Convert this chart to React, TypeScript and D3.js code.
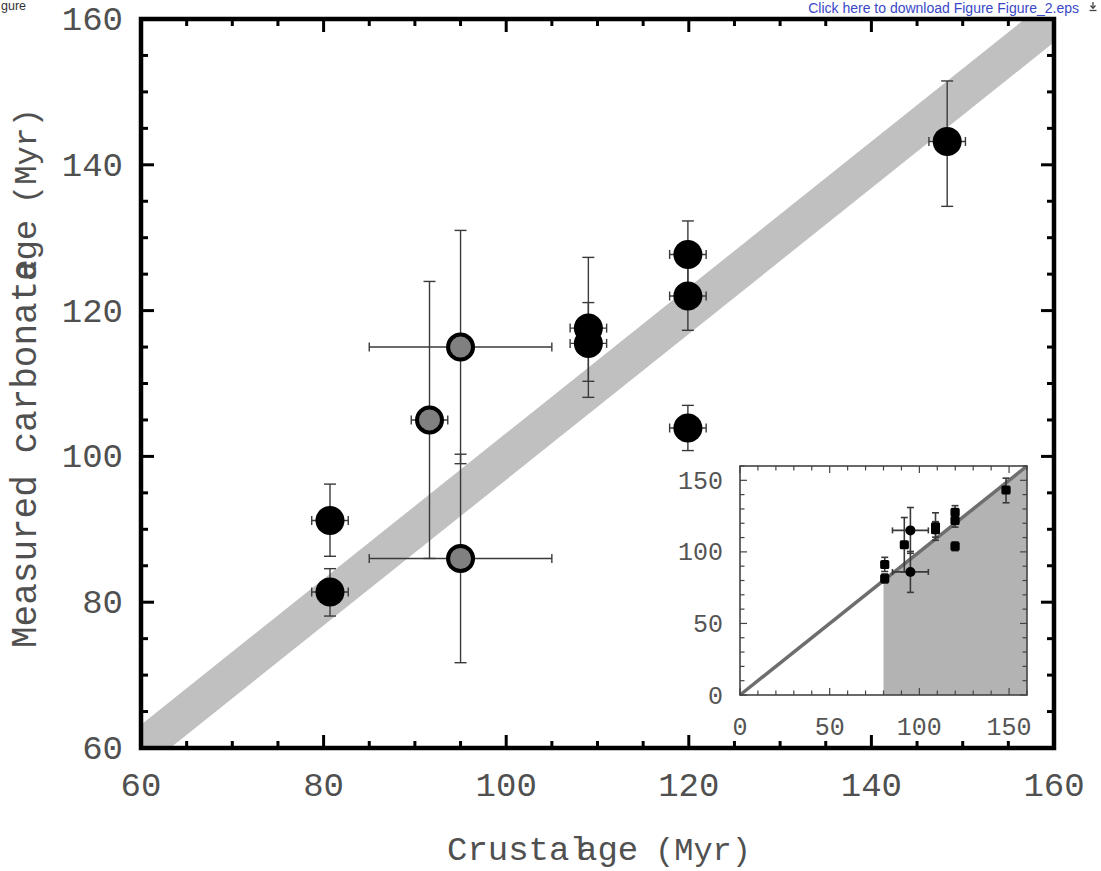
import React from "react";
import * as d3 from "d3";

// ---- Data (main panel) ----
const blackX = [80.7, 80.7, 109.0, 109.0, 119.9, 119.9, 119.9, 148.3];
const blackY = [91.2, 81.4, 117.6, 115.5, 127.7, 122.0, 103.9, 143.2];
const blackYLo = [86.3, 78.1, 108.1, 110.3, 123.1, 117.3, 100.8, 134.3];
const blackYHi = [96.2, 84.6, 127.3, 121.1, 132.3, 126.7, 107.0, 151.5];
const blackXErr = [2, 2, 2, 2, 2, 2, 2, 2];

const grayX = [91.6, 95.0, 95.0];
const grayY = [105.0, 115.0, 86.0];
const grayYLo = [86.0, 99.0, 71.7];
const grayYHi = [124.0, 131.0, 100.3];
const grayXLo = [89.6, 85.0, 85.0];
const grayXHi = [93.6, 105.0, 105.0];

const bandHalfWidth = 3.2; // 1:1 band half-width (Myr)
const mainDomain = [60, 160];
const mainMajorTicks = [60, 80, 100, 120, 140, 160];
const insetDomain = [0, 160];
const insetMajorTicks = [0, 50, 100, 150];
const insetCutoff = 80;

const xTitleA = "Crustal";
const xTitleB = "age";
const xTitleC = "(Myr)";
const yTitleA = "Measured carbonate";
const yTitleB = "age";
const yTitleC = "(Myr)";

const MONO = "'Liberation Mono', 'DejaVu Sans Mono', monospace";
const SANS = "'Liberation Sans', Arial, sans-serif";

export default function App() {
  const x = d3.scaleLinear().domain(mainDomain).range([141, 1054]);
  const y = d3.scaleLinear().domain(mainDomain).range([748, 19]);
  const ix = d3.scaleLinear().domain(insetDomain).range([740, 1027]);
  const iy = d3.scaleLinear().domain(insetDomain).range([695, 466]);

  const minor = d3.range(60, 160.01, 5);
  const inMinor = d3.range(0, 160.01, 10);

  const band = d3
    .area<number>()
    .x((d) => x(d))
    .y0((d) => y(d - bandHalfWidth))
    .y1((d) => y(d + bandHalfWidth));
  const bandPath = band([50, 170]) || "";

  const shade = d3
    .area<number>()
    .x((d) => ix(d))
    .y0(() => iy(0))
    .y1((d) => iy(d));
  const shadePath = shade([insetCutoff, 160]) || "";

  const ebColor = "#3a3a3a";
  const capV = 6;
  const capH = 4.5;

  const allX = [...blackX, ...grayX];
  const allY = [...blackY, ...grayY];
  const allYLo = [...blackYLo, ...grayYLo];
  const allYHi = [...blackYHi, ...grayYHi];
  const allXLo = [...blackX.map((v, i) => v - blackXErr[i]), ...grayXLo];
  const allXHi = [...blackX.map((v, i) => v + blackXErr[i]), ...grayXHi];

  const errorBars = (sx: any, sy: any, cv: number, ch: number, sw: number) =>
    allX.map((vx, i) => (
      <g key={"eb" + i} stroke={ebColor} strokeWidth={sw} fill="none">
        <line x1={sx(vx)} x2={sx(vx)} y1={sy(allYLo[i])} y2={sy(allYHi[i])} />
        <line x1={sx(vx) - cv} x2={sx(vx) + cv} y1={sy(allYLo[i])} y2={sy(allYLo[i])} />
        <line x1={sx(vx) - cv} x2={sx(vx) + cv} y1={sy(allYHi[i])} y2={sy(allYHi[i])} />
        <line x1={sx(allXLo[i])} x2={sx(allXHi[i])} y1={sy(allY[i])} y2={sy(allY[i])} />
        <line x1={sx(allXLo[i])} x2={sx(allXLo[i])} y1={sy(allY[i]) - ch} y2={sy(allY[i]) + ch} />
        <line x1={sx(allXHi[i])} x2={sx(allXHi[i])} y1={sy(allY[i]) - ch} y2={sy(allY[i]) + ch} />
      </g>
    ));

  const [x0, x1] = [x(60), x(160)];
  const [y0, y1] = [y(60), y(160)];

  return (
    <svg
      width={1101}
      height={871}
      style={{ position: "absolute", left: 0, top: 0, background: "#fff" }}
    >
      <rect x={0} y={0} width={1101} height={871} fill="#fff" />
      {/* header texts */}
      <text x={1} y={10} fontFamily={SANS} fontSize={12.5} fill="#333">
        gure
      </text>
      <text x={1079} y={12.5} textAnchor="end" fontFamily={SANS} fontSize={14} fill="#3a48c8">
        Click here to download Figure Figure_2.eps
      </text>
      <g stroke="#444" strokeWidth={1.3} fill="none">
        <line x1={1093} x2={1093} y1={2} y2={8} />
        <path d="M1090.5,5.5 L1093,8.3 L1095.5,5.5" />
        <line x1={1089.5} x2={1096.5} y1={10.5} y2={10.5} />
      </g>

      <defs>
        <clipPath id="plotClip">
          <rect x={x0} y={y1} width={x1 - x0} height={y0 - y1} />
        </clipPath>
      </defs>

      {/* 1:1 band */}
      <path d={bandPath} fill="#c0c0c0" clipPath="url(#plotClip)" />

      {/* error bars */}
      {errorBars(x, y, capV, capH, 1.4)}

      {/* markers */}
      {blackX.map((vx, i) => (
        <circle key={"b" + i} cx={x(vx)} cy={y(blackY[i])} r={14.5} fill="#000" />
      ))}
      {grayX.map((vx, i) => (
        <circle
          key={"g" + i}
          cx={x(vx)}
          cy={y(grayY[i])}
          r={12.5}
          fill="#808080"
          stroke="#000"
          strokeWidth={4}
        />
      ))}

      {/* ticks */}
      <g stroke="#000" strokeWidth={3}>
        {minor.map((t) => {
          const L = t % 20 === 0 ? 13 : 7;
          return (
            <g key={"t" + t}>
              <line x1={x(t)} x2={x(t)} y1={y0} y2={y0 - L} />
              <line x1={x(t)} x2={x(t)} y1={y1} y2={y1 + L} />
              <line x1={x0} x2={x0 + L} y1={y(t)} y2={y(t)} />
              <line x1={x1} x2={x1 - L} y1={y(t)} y2={y(t)} />
            </g>
          );
        })}
      </g>

      {/* inset */}
      <rect x={ix(0)} y={iy(160)} width={ix(160) - ix(0)} height={iy(0) - iy(160)} fill="#fff" />
      <path d={shadePath} fill="#b3b3b3" />
      <line x1={ix(0)} y1={iy(0)} x2={ix(160)} y2={iy(160)} stroke="#6e6e6e" strokeWidth={3.5} />
      {errorBars(ix, iy, 3.5, 3, 1.6)}
      {allX.map((vx, i) =>
        allXHi[i] - allXLo[i] > 10 ? (
          <circle key={"ic" + i} cx={ix(vx)} cy={iy(allY[i])} r={5} fill="#000" />
        ) : (
          <rect
            key={"is" + i}
            x={ix(vx) - 4.5}
            y={iy(allY[i]) - 4.5}
            width={9}
            height={9}
            rx={1.5}
            fill="#000"
          />
        )
      )}
      <g stroke="#444" strokeWidth={1.2}>
        {inMinor.map((t) => {
          const L = t % 50 === 0 ? 7 : 4.5;
          return (
            <g key={"it" + t}>
              <line x1={ix(t)} x2={ix(t)} y1={iy(0)} y2={iy(0) - L} />
              <line x1={ix(t)} x2={ix(t)} y1={iy(160)} y2={iy(160) + L} />
              <line x1={ix(0)} x2={ix(0) + L} y1={iy(t)} y2={iy(t)} />
              <line x1={ix(160)} x2={ix(160) - L} y1={iy(t)} y2={iy(t)} />
            </g>
          );
        })}
      </g>
      <rect
        x={ix(0)}
        y={iy(160)}
        width={ix(160) - ix(0)}
        height={iy(0) - iy(160)}
        fill="none"
        stroke="#444"
        strokeWidth={1.6}
      />
      <g fontFamily={MONO} fontSize={25} fill="#555">
        {insetMajorTicks.map((t) => (
          <text key={"ixl" + t} x={ix(t)} y={735} textAnchor="middle">
            {t}
          </text>
        ))}
        {insetMajorTicks.map((t) => (
          <text key={"iyl" + t} x={723} y={iy(t) + 8.5} textAnchor="end">
            {t}
          </text>
        ))}
      </g>

      {/* main frame */}
      <rect x={x0} y={y1} width={x1 - x0} height={y0 - y1} fill="none" stroke="#000" strokeWidth={4.5} />

      {/* tick labels */}
      <g fontFamily={MONO} fontSize={34} fill="#505050">
        {mainMajorTicks.map((t) => (
          <text key={"xl" + t} x={x(t)} y={796} textAnchor="middle">
            {t}
          </text>
        ))}
        {mainMajorTicks.map((t) => (
          <text key={"yl" + t} x={123} y={y(t) + 11} textAnchor="end">
            {t}
          </text>
        ))}
      </g>

      {/* axis titles (overlapping glyphs reproduce the reference's spacing) */}
      <g fontFamily={MONO} fill="#505050">
        <text x={447} y={860} fontSize={34}>{xTitleA}</text>
        <text x={577} y={860} fontSize={34}>{xTitleB}</text>
        <text x={655} y={860} fontSize={32}>{xTitleC}</text>
        <text transform="translate(36,648) rotate(-90)" fontSize={36}>{yTitleA}</text>
        <text transform="translate(36,281) rotate(-90)" fontSize={34}>{yTitleB}</text>
        <text transform="translate(36,204) rotate(-90)" fontSize={32}>{yTitleC}</text>
      </g>
    </svg>
  );
}
